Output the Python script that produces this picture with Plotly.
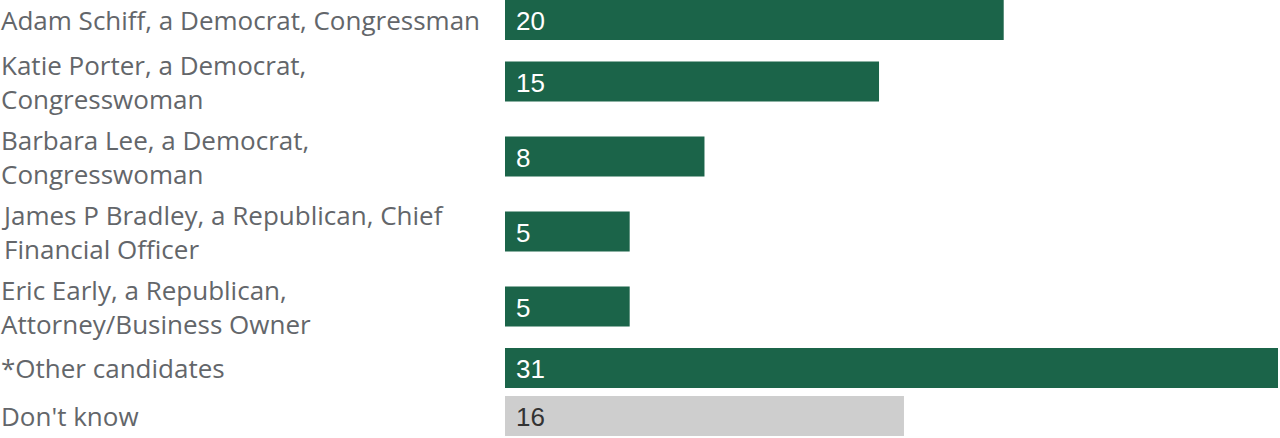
import plotly.graph_objects as go

labels = [
    "Adam Schiff, a Democrat, Congressman",
    "Katie Porter, a Democrat,<br>Congresswoman",
    "Barbara Lee, a Democrat,<br>Congresswoman",
    "James P Bradley, a Republican, Chief<br>Financial Officer",
    "Eric Early, a Republican,<br>Attorney/Business Owner",
    "*Other candidates",
    "Don't know",
]
values = [20, 15, 8, 5, 5, 31, 16]
is_dont_know = [False, False, False, False, False, False, True]

GREEN = "#1b6449"
GRAY = "#cecece"
LABEL_COLOR = "#63666a"

W, H = 1280, 438
BAR_H = 40
LINE_H = 33.5
GAP = 8

# layout: row height depends on label line count
rows = []
for lab in labels:
    n = lab.count("<br>") + 1
    rows.append(max(BAR_H, LINE_H * n) + GAP)
centers = []
pos = 0.0
for i, h in enumerate(rows):
    if i == 0:
        pos = BAR_H / 2
    else:
        pos += (rows[i - 1] + h) / 2
    centers.append(pos)

colors = [GRAY if d else GREEN for d in is_dont_know]

fig = go.Figure()
fig.add_trace(go.Bar(
    x=values, y=centers, orientation="h", width=BAR_H,
    marker=dict(color=colors, line=dict(width=0)),
    hoverinfo="skip",
))

annotations = []
for lab, c in zip(labels, centers):
    annotations.append(dict(
        x=0, xref="paper", y=c, yref="y", text=lab, showarrow=False,
        xanchor="left", yanchor="middle", align="left", borderpad=0,
        font=dict(family="Open Sans", size=26, color=LABEL_COLOR),
    ))
for v, c, d in zip(values, centers, is_dont_know):
    annotations.append(dict(
        x=0, xref="x", y=c, yref="y", text=str(v), showarrow=False,
        xanchor="left", yanchor="middle", xshift=9, yshift=-1,
        font=dict(family="Liberation Sans, Arial", size=26,
                  color="#333333" if d else "#ffffff"),
    ))

fig.update_layout(
    width=W, height=H,
    margin=dict(l=0, r=0, t=0, b=0, pad=0),
    paper_bgcolor="white", plot_bgcolor="white",
    showlegend=False,
    annotations=annotations,
    xaxis=dict(domain=[505 / W, 1278 / W], range=[0, 31], visible=False,
               fixedrange=True),
    yaxis=dict(range=[H, 0], visible=False, fixedrange=True),
)

fig.write_html("out.html", config={"displayModeBar": False})
